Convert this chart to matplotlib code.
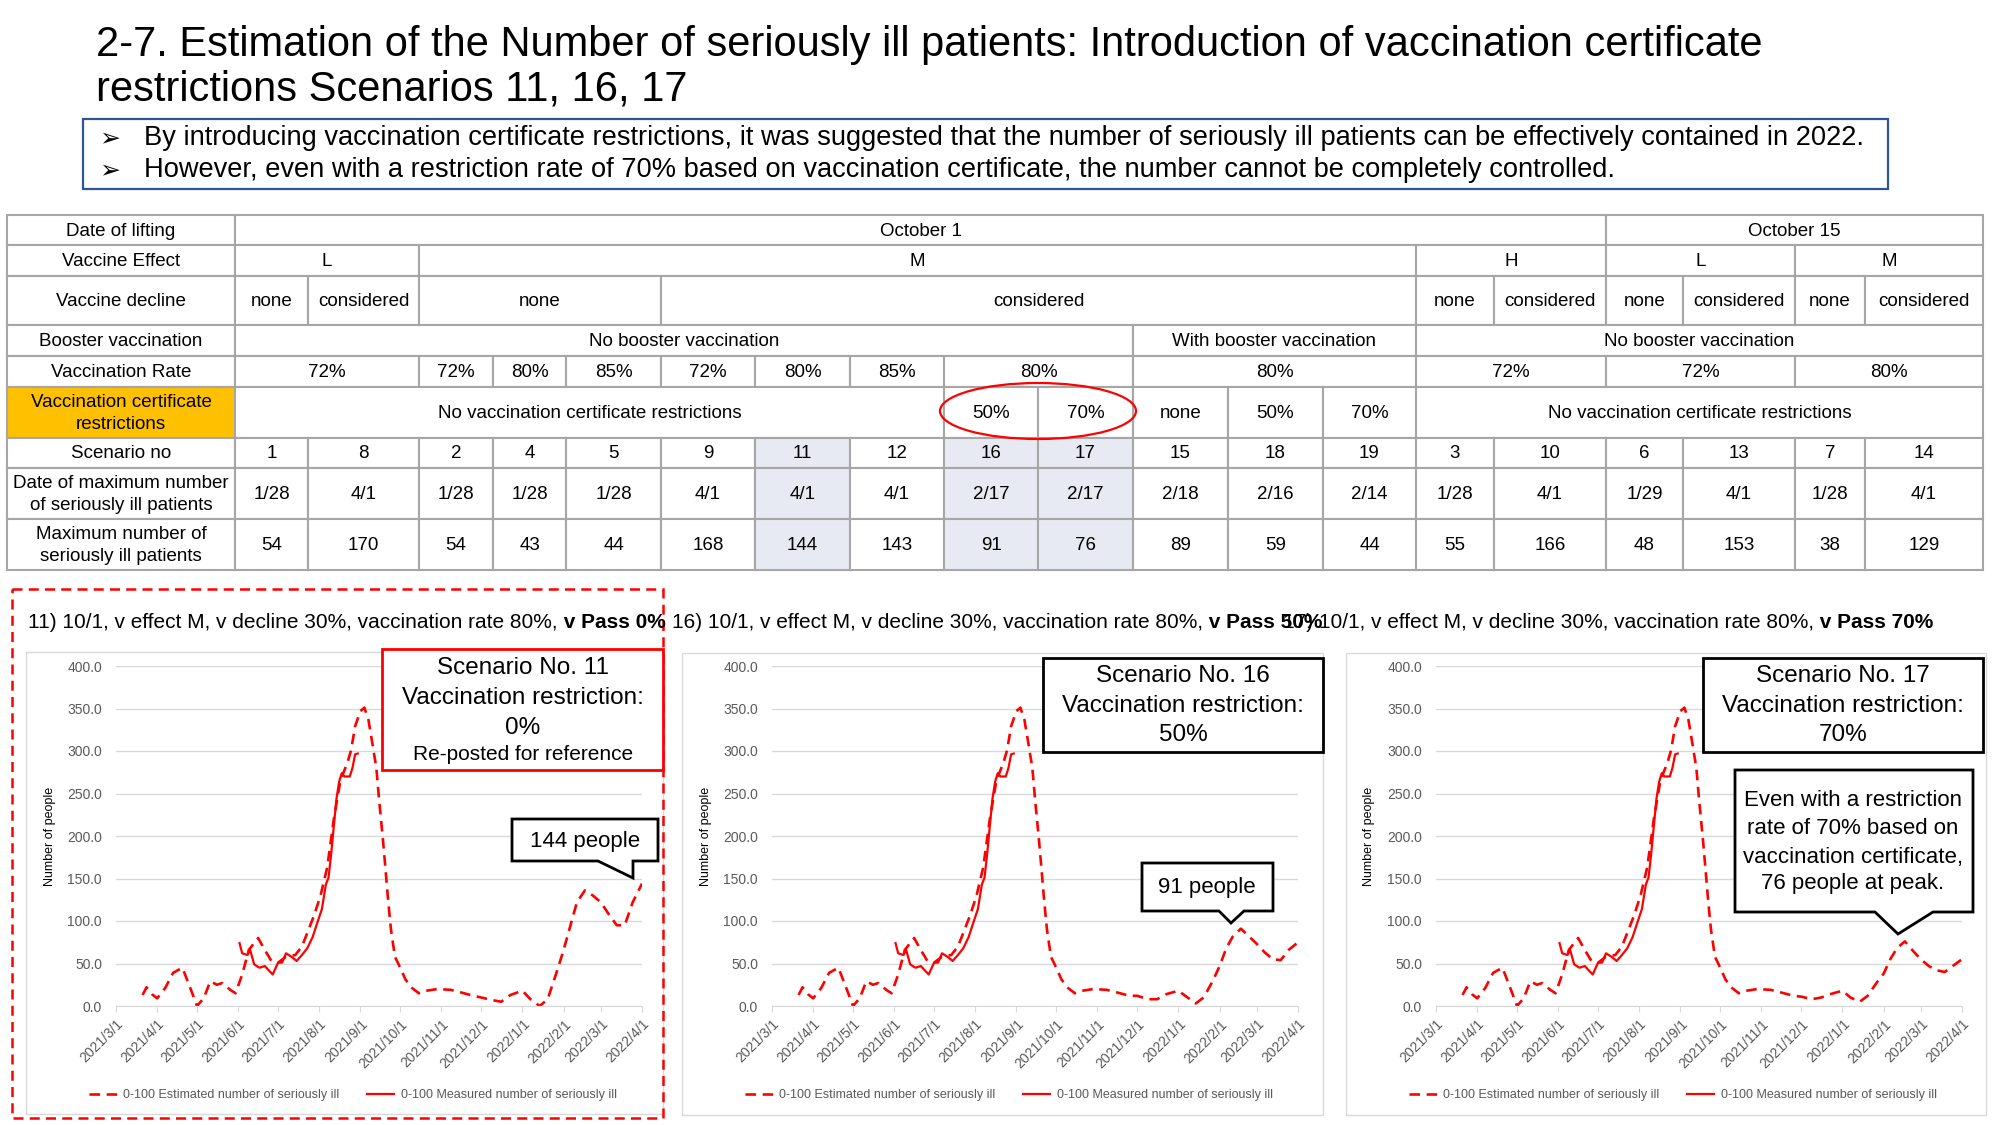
import matplotlib
matplotlib.use("Agg")
import matplotlib.pyplot as plt
import matplotlib.dates as mdates
from matplotlib.patches import Rectangle, Ellipse, Polygon
import pandas as pd

plt.rcParams['font.family'] = ['Liberation Sans', 'DejaVu Sans']

# ---------------- text ----------------
title_lines = ["2-7. Estimation of the Number of seriously ill patients: Introduction of vaccination certificate",
               "restrictions Scenarios 11, 16, 17"]
bullet_lines = ["By introducing vaccination certificate restrictions, it was suggested that the number of seriously ill patients can be effectively contained in 2022.",
                "However, even with a restriction rate of 70% based on vaccination certificate, the number cannot be completely controlled."]

# ---------------- table ----------------
row_labels = ["Date of lifting", "Vaccine Effect", "Vaccine decline", "Booster vaccination", "Vaccination Rate",
              "Vaccination certificate\nrestrictions", "Scenario no",
              "Date of maximum number\nof seriously ill patients", "Maximum number of\nseriously ill patients"]
# merged rows: (text, number of scenario columns spanned)
lifting = [("October 1", 15), ("October 15", 4)]
effect = [("L", 2), ("M", 11), ("H", 2), ("L", 2), ("M", 2)]
decline = [("none", 1), ("considered", 1), ("none", 3), ("considered", 8), ("none", 1), ("considered", 1),
           ("none", 1), ("considered", 1), ("none", 1), ("considered", 1)]
booster = [("No booster vaccination", 10), ("With booster vaccination", 3), ("No booster vaccination", 6)]
vacc_rate = [("72%", 2), ("72%", 1), ("80%", 1), ("85%", 1), ("72%", 1), ("80%", 1), ("85%", 1), ("80%", 2),
             ("80%", 3), ("72%", 2), ("72%", 2), ("80%", 2)]
cert = [("No vaccination certificate restrictions", 8), ("50%", 1), ("70%", 1), ("none", 1), ("50%", 1),
        ("70%", 1), ("No vaccination certificate restrictions", 6)]
scenario_no = ["1", "8", "2", "4", "5", "9", "11", "12", "16", "17", "15", "18", "19", "3", "10", "6", "13", "7", "14"]
peak_date = ["1/28", "4/1", "1/28", "1/28", "1/28", "4/1", "4/1", "4/1", "2/17", "2/17", "2/18", "2/16", "2/14",
             "1/28", "4/1", "1/29", "4/1", "1/28", "4/1"]
peak_value = [54, 170, 54, 43, 44, 168, 144, 143, 91, 76, 89, 59, 44, 55, 166, 48, 153, 38, 129]
highlight = ["11", "16", "17"]

# ---------------- chart data ----------------
est_dates = ["2021-03-21", "2021-03-24", "2021-03-28", "2021-04-01", "2021-04-07", "2021-04-13", "2021-04-20",
             "2021-04-25", "2021-05-01", "2021-05-06", "2021-05-11", "2021-05-16", "2021-05-20", "2021-05-26",
             "2021-05-30", "2021-06-04", "2021-06-09", "2021-06-16", "2021-06-21", "2021-06-26", "2021-07-01",
             "2021-07-07", "2021-07-14", "2021-07-19", "2021-07-23", "2021-07-28", "2021-08-02", "2021-08-07",
             "2021-08-12", "2021-08-17", "2021-08-22", "2021-08-25", "2021-08-28", "2021-09-01", "2021-09-04",
             "2021-09-07", "2021-09-10", "2021-09-13", "2021-09-15", "2021-09-18", "2021-09-20", "2021-09-22",
             "2021-09-24", "2021-09-27", "2021-10-01", "2021-10-05", "2021-10-10", "2021-10-15", "2021-10-21",
             "2021-10-29", "2021-11-08", "2021-11-18", "2021-11-25"]
est_values = [13, 22, 14, 9, 21, 39, 45, 25, 0, 9, 29, 25, 27, 19, 15, 37, 66, 80, 66, 53, 51, 58, 60, 70, 86,
              106, 130, 163, 220, 266, 285, 301, 329, 347, 351, 337, 309, 280, 244, 195, 159, 122, 90, 58, 45,
              31, 21, 15, 18, 20, 19, 15, 12]
tail_dates = ["2021-12-01", "2021-12-09", "2021-12-16", "2021-12-23", "2022-01-01", "2022-01-07", "2022-01-14",
              "2022-01-20", "2022-01-27", "2022-02-01", "2022-02-06", "2022-02-11", "2022-02-17", "2022-02-23",
              "2022-03-01", "2022-03-07", "2022-03-13", "2022-03-19", "2022-03-25", "2022-04-01"]
tail_s11 = [10, 7, 5, 13, 18, 8, 0, 8, 41, 66, 94, 122, 136, 130, 122, 108, 95, 95, 122, 144]
tail_s16 = [12, 8, 8, 14, 18, 11, 3, 10, 30, 47, 68, 82, 91, 82, 73, 63, 55, 54, 66, 75]
tail_s17 = [11, 8, 10, 14, 18, 10, 5, 12, 28, 38, 55, 68, 76, 65, 55, 47, 42, 40, 47, 55]

meas_dates = ["2021-06-02", "2021-06-04", "2021-06-08", "2021-06-10", "2021-06-13", "2021-06-17", "2021-06-21",
              "2021-06-27", "2021-07-01", "2021-07-04", "2021-07-07", "2021-07-11", "2021-07-15", "2021-07-19",
              "2021-07-23", "2021-07-27", "2021-07-31", "2021-08-03", "2021-08-06", "2021-08-08", "2021-08-10",
              "2021-08-12", "2021-08-14", "2021-08-16", "2021-08-18", "2021-08-20", "2021-08-24", "2021-08-26",
              "2021-08-28", "2021-08-30"]
meas_values = [74, 62, 60, 66, 49, 45, 47, 37, 51, 51, 62, 58, 53, 60, 68, 81, 100, 114, 143, 151, 179, 212,
               244, 264, 274, 270, 270, 280, 296, 297]

subtitles = [("11) 10/1, v effect M, v decline 30%, vaccination rate 80%,", " v Pass 0%"),
             ("16) 10/1, v effect M, v decline 30%, vaccination rate 80%,", " v Pass 50%"),
             ("17) 10/1, v effect M, v decline 30%, vaccination rate 80%,", " v Pass 70%")]
tails = [tail_s11, tail_s16, tail_s17]
legend_labels = ["0-100 Estimated number of seriously ill", "0-100 Measured number of seriously ill"]

# ---------------- layout (pixels) ----------------
W, H = 2000, 1125
fig = plt.figure(figsize=(20, 11.25), dpi=100)
bg = fig.add_axes([0, 0, 1, 1])
bg.set_xlim(0, W)
bg.set_ylim(H, 0)
bg.axis('off')

RED = '#FF0000'
GRID = '#A6A6A6'

for i, line in enumerate(title_lines):
    bg.text(96, 45 + i * 44, line, fontsize=30, va='center', ha='left')

bg.add_patch(Rectangle((83, 119), 1805, 70, fill=False, ec='#2F5597', lw=1.6))
for i, line in enumerate(bullet_lines):
    y = 138 + i * 32
    bg.text(99, y, "\u27a2", fontsize=18, va='center', ha='left', family='DejaVu Sans')
    bg.text(144, y, line, fontsize=19.6, va='center', ha='left')

col_x = [7, 235, 308, 419, 493, 566, 661, 755, 850, 944, 1038, 1133, 1228, 1323, 1416, 1494, 1606, 1683, 1795,
         1865, 1983]
row_y = [215, 245, 276, 325, 356, 387, 438, 468, 519, 570]


def cell(r, c0, c1, text, fc='white'):
    x0, x1 = col_x[c0], col_x[c1]
    y0, y1 = row_y[r], row_y[r + 1]
    bg.add_patch(Rectangle((x0, y0), x1 - x0, y1 - y0, fc=fc, ec=GRID, lw=1.5))
    bg.text((x0 + x1) / 2, (y0 + y1) / 2 + 1, text, fontsize=13.5, ha='center', va='center', linespacing=1.35)


for r, lab in enumerate(row_labels):
    cell(r, 0, 1, lab, fc='#FFC000' if r == 5 else 'white')

for r, spans in enumerate([lifting, effect, decline, booster, vacc_rate, cert]):
    c = 1
    for text, n in spans:
        cell(r, c, c + n, text)
        c += n

for r, vals in zip([6, 7, 8], [scenario_no, peak_date, peak_value]):
    for j, v in enumerate(vals):
        fc = '#E8EAF3' if scenario_no[j] in highlight else 'white'
        cell(r, j + 1, j + 2, str(v), fc=fc)

bg.add_patch(Ellipse((1038, 411), 196, 56, fill=False, ec=RED, lw=1.6, zorder=5))

# ---------------- charts ----------------
ax_left = [116, 772, 1436]
ax_right = [642, 1298, 1962]
ax_top, ax_bot = 666, 1006
sub_x = [28, 672, 1283]
ylabel_x = [56, 712, 1375]
frames = [(26, 652, 663, 1114), (682, 653, 1323, 1115), (1346, 653, 1986, 1115)]

for x0, y0, x1, y1 in frames:
    bg.add_patch(Rectangle((x0, y0), x1 - x0, y1 - y0, fill=False, ec='#D9D9D9', lw=1))
bg.add_patch(Rectangle((12, 589), 651, 529, fill=False, ec=RED, lw=1.8, ls=(0, (4, 2.5))))

est_x = pd.to_datetime(est_dates + tail_dates)
meas_x = pd.to_datetime(meas_dates)

for k in range(3):
    l, r = ax_left[k], ax_right[k]
    ax = fig.add_axes([l / W, 1 - ax_bot / H, (r - l) / W, (ax_bot - ax_top) / H])
    ax.set_facecolor('none')
    h1, = ax.plot(est_x, est_values + tails[k], color=RED, lw=1.9, ls=(0, (4, 2.5)))
    h2, = ax.plot(meas_x, meas_values, color=RED, lw=1.6)
    ax.set_xlim(pd.Timestamp('2021-03-01'), pd.Timestamp('2022-04-01'))
    ax.set_ylim(0, 400)
    ax.set_yticks(range(0, 401, 50))
    ax.yaxis.set_major_formatter(plt.FuncFormatter(lambda v, p: f"{v:.1f}"))
    ax.xaxis.set_major_locator(mdates.MonthLocator(bymonthday=1))
    ax.xaxis.set_major_formatter(plt.FuncFormatter(
        lambda v, p: "{0.year}/{0.month}/{0.day}".format(mdates.num2date(v))))
    ax.yaxis.grid(True, color='#D9D9D9', lw=1)
    ax.set_axisbelow(True)
    for s in ['top', 'right', 'left']:
        ax.spines[s].set_visible(False)
    ax.spines['bottom'].set_color('#D9D9D9')
    ax.tick_params(axis='y', length=0, labelsize=10, labelcolor='#595959', pad=10)
    ax.tick_params(axis='x', length=4, color='#D9D9D9', labelsize=10, labelcolor='#595959', pad=4)
    for lab in ax.get_xticklabels():
        lab.set_rotation(45)
        lab.set_ha('right')
        lab.set_rotation_mode('anchor')
    ax.set_ylabel("Number of people", fontsize=9)
    ax.yaxis.set_label_coords((ylabel_x[k] - l) / (r - l), 0.5)
    ax.legend([h1, h2], legend_labels, loc='center', ncol=2, frameon=False, fontsize=9,
              labelcolor='#595959', handlelength=2.2, columnspacing=2.2, handletextpad=0.5,
              bbox_to_anchor=((l + r) / 2 / W - 26 / W, 1 - 1095 / H), bbox_transform=fig.transFigure)

renderer = fig.canvas.get_renderer()
for x0, (plain, bold) in zip(sub_x, subtitles):
    t = fig.text(x0 / W, 1 - 622 / H, plain, fontsize=15, va='center', ha='left')
    bb = t.get_window_extent(renderer=renderer)
    fig.text(bb.x1 / W, 1 - 622 / H, bold, fontsize=15, fontweight='bold', va='center', ha='left')

# ---------------- annotation boxes ----------------
fg = fig.add_axes([0, 0, 1, 1], zorder=10)
fg.set_xlim(0, W)
fg.set_ylim(H, 0)
fg.axis('off')
fg.patch.set_alpha(0)

fg.add_patch(Rectangle((382, 649), 281, 121, fc='white', ec=RED, lw=2))
for y, s, fs in [(668, "Scenario No. 11", 17.5), (698, "Vaccination restriction:", 17.5), (728, "0%", 17.5),
                 (755, "Re-posted for reference", 15)]:
    fg.text(523, y, s, fontsize=fs, ha='center', va='center')

for x0, label in [(1043, "Scenario No. 16"), (1703, "Scenario No. 17")]:
    fg.add_patch(Rectangle((x0, 658), 280, 94, fc='white', ec='black', lw=2))
    pct = "50%" if label.endswith("16") else "70%"
    for y, s in [(676, label), (706, "Vaccination restriction:"), (735, pct)]:
        fg.text(x0 + 140, y, s, fontsize=17.5, ha='center', va='center')

callouts = [
    [(512, 819), (658, 819), (658, 861), (633, 861), (633, 878), (598, 861), (512, 861)],
    [(1142, 863), (1273, 863), (1273, 911), (1244, 911), (1231, 923), (1219, 911), (1142, 911)],
    [(1735, 770), (1973, 770), (1973, 912), (1933, 912), (1898, 934), (1875, 912), (1735, 912)],
]
for pts in callouts:
    fg.add_patch(Polygon(pts, closed=True, fc='white', ec='black', lw=2))
fg.text(585, 841, "144 people", fontsize=16, ha='center', va='center')
fg.text(1207, 888, "91 people", fontsize=16, ha='center', va='center')
for y, s in [(800, "Even with a restriction"), (829, "rate of 70% based on"), (857, "vaccination certificate,"),
             (884, "76 people at peak.")]:
    fg.text(1853, y, s, fontsize=16, ha='center', va='center')

fig.savefig("out.png", dpi=100)
